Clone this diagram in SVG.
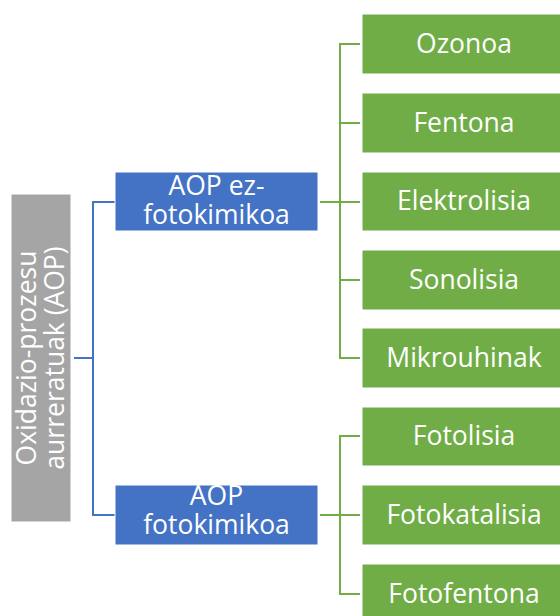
<svg xmlns="http://www.w3.org/2000/svg" width="560" height="616" viewBox="0 0 560 616">
<style>
text{font-family:"Open Sans","Noto Sans",sans-serif;font-size:26.5px;fill:#fff;text-anchor:middle}
.g{fill:#70AD47;stroke:#fff;stroke-width:1}
.b{fill:#4472C4;stroke:#fff;stroke-width:1}
.r{fill:#A5A5A5;stroke:#fff;stroke-width:1}
.cb{fill:none;stroke:#4472C4;stroke-width:2}
.cg{fill:none;stroke:#70AD47;stroke-width:2}
</style>
<rect width="560" height="616" fill="#fff"/>
<g id="connectors">
<path class="cb" d="M74 358H93M115 202H93V515H115"/>
<path class="cg" d="M320 202H360M360 44H340V358H360M340 123H360M340 280H360"/>
<path class="cg" d="M320 515H360M360 436H340V594H360"/>
</g>
<g id="root">
<rect class="r" x="11" y="194" width="60" height="328"/>
<text transform="translate(41,358) rotate(-90)"><tspan x="0" y="-5">Oxidazio-prozesu</tspan><tspan x="0" y="23">aurreratuak (AOP)</tspan></text>
</g>
<g id="aop-ez">
<rect class="b" x="115" y="172" width="203" height="59"/>
<text><tspan x="216.5" y="195">AOP ez-</tspan><tspan x="216.5" y="224">fotokimikoa</tspan></text>
</g>
<g id="aop-foto">
<rect class="b" x="115" y="485" width="203" height="60"/>
<text><tspan x="216.5" y="505">AOP</tspan><tspan x="216.5" y="534">fotokimikoa</tspan></text>
</g>
<g id="ozonoa"><rect class="g" x="362" y="14" width="204" height="60"/><text x="464" y="52.5">Ozonoa</text></g>
<g id="fentona"><rect class="g" x="362" y="93" width="204" height="60"/><text x="464" y="131.5">Fentona</text></g>
<g id="elektrolisia"><rect class="g" x="362" y="172" width="204" height="59"/><text x="464" y="210">Elektrolisia</text></g>
<g id="sonolisia"><rect class="g" x="362" y="250" width="204" height="60"/><text x="464" y="288.5">Sonolisia</text></g>
<g id="mikrouhinak"><rect class="g" x="362" y="328" width="204" height="60"/><text x="464" y="366.5">Mikrouhinak</text></g>
<g id="fotolisia"><rect class="g" x="362" y="407" width="204" height="59"/><text x="464" y="445">Fotolisia</text></g>
<g id="fotokatalisia"><rect class="g" x="362" y="485" width="204" height="60"/><text x="464" y="523.5">Fotokatalisia</text></g>
<g id="fotofentona"><rect class="g" x="362" y="564" width="204" height="60"/><text x="464" y="602.5">Fotofentona</text></g>
</svg>
